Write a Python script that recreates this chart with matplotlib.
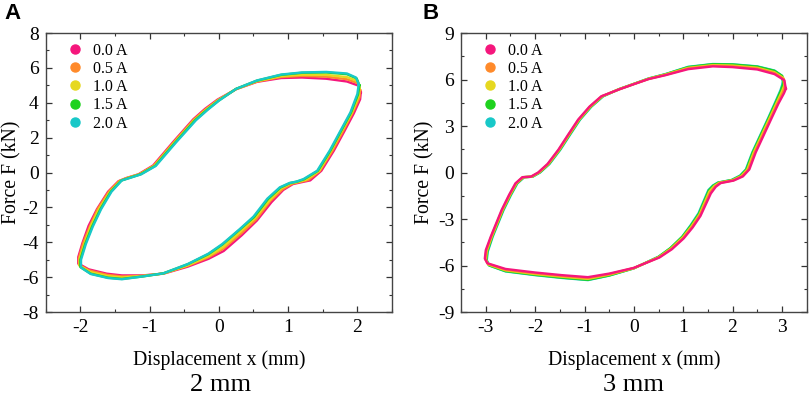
import matplotlib
matplotlib.use("Agg")
import matplotlib.pyplot as plt
from matplotlib.ticker import MultipleLocator

plt.rcParams['font.family'] = ['Liberation Serif', 'DejaVu Serif']
plt.rcParams['axes.unicode_minus'] = False

currents = ["0.0 A", "0.5 A", "1.0 A", "1.5 A", "2.0 A"]
colors = ["#f5167c", "#ff8a2a", "#e6d820", "#1ed21e", "#18c8c8"]

# ---- panel A, 2 mm amplitude: loops as (x mm, F kN)
A_00 = [(2.05, 4.60), (2.02, 4.98), (1.85, 5.22), (1.55, 5.38), (1.20, 5.45), (0.90, 5.42),
        (0.55, 5.20), (0.25, 4.78), (-0.02, 4.18), (-0.20, 3.65), (-0.37, 3.05), (-0.66, 1.75),
        (-0.95, 0.40), (-1.16, -0.10), (-1.34, -0.32), (-1.45, -0.50), (-1.60, -1.10),
        (-1.76, -2.10), (-1.88, -3.05), (-1.97, -4.05), (-2.03, -4.85), (-2.03, -5.22),
        (-1.88, -5.55), (-1.62, -5.80), (-1.40, -5.90), (-1.10, -5.90), (-0.80, -5.80),
        (-0.45, -5.40), (-0.15, -4.95), (0.07, -4.50), (0.33, -3.60), (0.55, -2.75),
        (0.76, -1.70), (0.93, -1.00), (1.07, -0.66), (1.20, -0.55), (1.32, -0.45), (1.48, 0.10),
        (1.66, 1.25), (1.81, 2.35), (1.95, 3.40), (2.04, 4.20), (2.05, 4.60)]
A_05 = [(2.04, 4.72), (2.01, 5.12), (1.85, 5.35), (1.55, 5.50), (1.20, 5.54), (0.90, 5.48),
        (0.55, 5.22), (0.25, 4.79), (-0.01, 4.16), (-0.19, 3.63), (-0.36, 3.04), (-0.65, 1.74),
        (-0.94, 0.39), (-1.15, -0.10), (-1.33, -0.32), (-1.44, -0.49), (-1.59, -1.10),
        (-1.75, -2.10), (-1.86, -3.06), (-1.96, -4.06), (-2.02, -4.90), (-2.02, -5.30),
        (-1.87, -5.62), (-1.61, -5.87), (-1.40, -5.96), (-1.10, -5.92), (-0.80, -5.79),
        (-0.45, -5.35), (-0.15, -4.86), (0.06, -4.38), (0.32, -3.50), (0.54, -2.68),
        (0.74, -1.64), (0.92, -0.96), (1.06, -0.64), (1.17, -0.54), (1.29, -0.43), (1.46, 0.10),
        (1.64, 1.25), (1.79, 2.35), (1.93, 3.42), (2.03, 4.30), (2.04, 4.72)]
A_10 = [(2.03, 4.85), (2.00, 5.25), (1.85, 5.47), (1.55, 5.60), (1.20, 5.61), (0.90, 5.53),
        (0.55, 5.24), (0.25, 4.79), (-0.01, 4.15), (-0.18, 3.62), (-0.35, 3.02), (-0.64, 1.73),
        (-0.93, 0.39), (-1.14, -0.10), (-1.32, -0.32), (-1.42, -0.47), (-1.57, -1.10),
        (-1.73, -2.10), (-1.85, -3.08), (-1.94, -4.08), (-2.01, -4.94), (-2.01, -5.35),
        (-1.86, -5.70), (-1.61, -5.94), (-1.40, -6.02), (-1.10, -5.94), (-0.80, -5.79),
        (-0.45, -5.32), (-0.15, -4.79), (0.06, -4.28), (0.31, -3.40), (0.52, -2.62),
        (0.73, -1.60), (0.90, -0.91), (1.04, -0.62), (1.15, -0.53), (1.26, -0.41), (1.45, 0.10),
        (1.62, 1.25), (1.77, 2.35), (1.92, 3.43), (2.02, 4.40), (2.03, 4.85)]
A_15 = [(2.03, 5.00), (1.99, 5.40), (1.85, 5.64), (1.55, 5.74), (1.20, 5.72), (0.90, 5.60),
        (0.55, 5.27), (0.25, 4.80), (0.00, 4.13), (-0.17, 3.60), (-0.34, 3.01), (-0.63, 1.72),
        (-0.92, 0.38), (-1.13, -0.10), (-1.31, -0.33), (-1.41, -0.46), (-1.56, -1.10),
        (-1.71, -2.10), (-1.83, -3.10), (-1.93, -4.10), (-2.00, -5.00), (-2.00, -5.42),
        (-1.85, -5.80), (-1.60, -6.03), (-1.40, -6.10), (-1.10, -5.96), (-0.80, -5.78),
        (-0.45, -5.26), (-0.15, -4.68), (0.05, -4.14), (0.30, -3.28), (0.51, -2.55),
        (0.71, -1.52), (0.89, -0.86), (1.03, -0.60), (1.13, -0.52), (1.23, -0.39), (1.43, 0.10),
        (1.61, 1.25), (1.76, 2.35), (1.91, 3.45), (2.01, 4.48), (2.03, 5.00)]
A_20 = [(2.02, 5.05), (1.98, 5.45), (1.85, 5.68), (1.55, 5.77), (1.20, 5.74), (0.90, 5.62),
        (0.55, 5.28), (0.25, 4.80), (0.00, 4.12), (-0.16, 3.60), (-0.33, 3.00), (-0.62, 1.72),
        (-0.91, 0.38), (-1.12, -0.10), (-1.30, -0.33), (-1.40, -0.45), (-1.55, -1.10),
        (-1.70, -2.10), (-1.82, -3.10), (-1.92, -4.10), (-1.99, -5.00), (-1.99, -5.45),
        (-1.85, -5.82), (-1.60, -6.05), (-1.40, -6.12), (-1.10, -5.96), (-0.80, -5.78),
        (-0.45, -5.25), (-0.15, -4.65), (0.05, -4.10), (0.30, -3.25), (0.50, -2.53),
        (0.70, -1.50), (0.88, -0.85), (1.02, -0.60), (1.12, -0.52), (1.22, -0.38), (1.42, 0.10),
        (1.60, 1.25), (1.75, 2.35), (1.90, 3.45), (2.00, 4.50), (2.02, 5.05)]

# ---- panel B, 3 mm amplitude
B_00 = [(3.08, 5.40), (3.05, 5.95), (2.85, 6.35), (2.50, 6.65), (2.00, 6.80), (1.60, 6.85),
        (1.10, 6.67), (0.64, 6.28), (0.30, 6.03), (0.00, 5.70), (-0.30, 5.36), (-0.66, 4.92),
        (-0.90, 4.25), (-1.13, 3.41), (-1.33, 2.45), (-1.53, 1.47), (-1.75, 0.55), (-1.94, 0.00),
        (-2.09, -0.27), (-2.26, -0.30), (-2.40, -0.70), (-2.53, -1.45), (-2.68, -2.42),
        (-2.90, -4.14), (-3.00, -5.00), (-3.02, -5.55), (-2.97, -5.85), (-2.60, -6.22),
        (-2.00, -6.45), (-1.46, -6.62), (-0.93, -6.75), (-0.50, -6.52), (0.00, -6.15),
        (0.52, -5.48), (0.77, -4.95), (1.01, -4.25), (1.19, -3.55), (1.35, -2.80), (1.56, -1.35),
        (1.66, -0.92), (1.76, -0.68), (2.02, -0.52), (2.21, -0.25), (2.34, 0.20), (2.47, 1.30),
        (2.63, 2.40), (2.79, 3.50), (2.93, 4.45), (3.04, 5.10), (3.08, 5.40)]
B_05 = [(3.06, 5.52), (3.04, 6.03), (2.85, 6.42), (2.50, 6.71), (2.00, 6.85), (1.60, 6.89),
        (1.10, 6.72), (0.64, 6.30), (0.30, 6.04), (0.00, 5.71), (-0.30, 5.37), (-0.65, 4.92),
        (-0.89, 4.25), (-1.12, 3.41), (-1.32, 2.45), (-1.52, 1.47), (-1.74, 0.55), (-1.93, 0.00),
        (-2.08, -0.27), (-2.25, -0.30), (-2.39, -0.70), (-2.52, -1.45), (-2.67, -2.42),
        (-2.89, -4.14), (-2.99, -5.03), (-3.01, -5.58), (-2.96, -5.89), (-2.60, -6.27),
        (-2.00, -6.50), (-1.46, -6.67), (-0.93, -6.81), (-0.50, -6.56), (0.00, -6.16),
        (0.51, -5.47), (0.76, -4.93), (1.00, -4.22), (1.18, -3.50), (1.34, -2.75), (1.55, -1.28),
        (1.65, -0.89), (1.74, -0.67), (2.01, -0.51), (2.19, -0.24), (2.32, 0.20), (2.45, 1.30),
        (2.61, 2.40), (2.77, 3.50), (2.91, 4.46), (3.02, 5.16), (3.06, 5.52)]
B_10 = [(3.05, 5.62), (3.03, 6.10), (2.85, 6.47), (2.50, 6.76), (2.00, 6.90), (1.60, 6.93),
        (1.10, 6.75), (0.64, 6.32), (0.30, 6.05), (0.00, 5.71), (-0.30, 5.37), (-0.64, 4.92),
        (-0.88, 4.25), (-1.11, 3.41), (-1.31, 2.45), (-1.51, 1.47), (-1.73, 0.55), (-1.92, 0.00),
        (-2.07, -0.27), (-2.24, -0.30), (-2.38, -0.70), (-2.51, -1.45), (-2.66, -2.42),
        (-2.88, -4.14), (-2.98, -5.06), (-3.00, -5.61), (-2.95, -5.93), (-2.60, -6.31),
        (-2.00, -6.55), (-1.46, -6.72), (-0.93, -6.86), (-0.50, -6.59), (0.00, -6.17),
        (0.51, -5.45), (0.75, -4.91), (0.99, -4.19), (1.17, -3.46), (1.33, -2.71), (1.53, -1.23),
        (1.63, -0.87), (1.73, -0.66), (2.00, -0.50), (2.18, -0.22), (2.30, 0.20), (2.43, 1.30),
        (2.59, 2.40), (2.75, 3.50), (2.89, 4.47), (3.00, 5.22), (3.05, 5.62)]
B_15 = [(3.03, 5.75), (3.01, 6.22), (2.85, 6.56), (2.50, 6.83), (2.00, 6.97), (1.60, 6.99),
        (1.10, 6.80), (0.64, 6.34), (0.30, 6.06), (0.00, 5.72), (-0.30, 5.38), (-0.63, 4.92),
        (-0.87, 4.25), (-1.10, 3.41), (-1.30, 2.45), (-1.50, 1.47), (-1.72, 0.55), (-1.91, 0.00),
        (-2.06, -0.27), (-2.23, -0.30), (-2.37, -0.70), (-2.50, -1.45), (-2.65, -2.42),
        (-2.87, -4.14), (-2.97, -5.09), (-2.99, -5.64), (-2.94, -5.98), (-2.60, -6.36),
        (-2.00, -6.60), (-1.46, -6.78), (-0.93, -6.92), (-0.50, -6.64), (0.00, -6.18),
        (0.50, -5.44), (0.74, -4.88), (0.98, -4.15), (1.16, -3.41), (1.32, -2.65), (1.52, -1.15),
        (1.61, -0.85), (1.71, -0.65), (1.99, -0.48), (2.16, -0.21), (2.28, 0.20), (2.41, 1.30),
        (2.57, 2.40), (2.73, 3.50), (2.87, 4.49), (2.98, 5.28), (3.03, 5.75)]
B_20 = [(3.02, 5.80), (3.00, 6.25), (2.85, 6.58), (2.50, 6.85), (2.00, 6.98), (1.60, 7.00),
        (1.10, 6.82), (0.64, 6.35), (0.30, 6.07), (0.00, 5.72), (-0.30, 5.38), (-0.62, 4.92),
        (-0.86, 4.25), (-1.09, 3.41), (-1.29, 2.45), (-1.49, 1.47), (-1.71, 0.55), (-1.90, 0.00),
        (-2.05, -0.27), (-2.22, -0.30), (-2.36, -0.70), (-2.49, -1.45), (-2.64, -2.42),
        (-2.86, -4.14), (-2.96, -5.10), (-2.98, -5.65), (-2.93, -6.00), (-2.60, -6.38),
        (-2.00, -6.62), (-1.46, -6.80), (-0.93, -6.94), (-0.50, -6.65), (0.00, -6.18),
        (0.50, -5.43), (0.74, -4.88), (0.98, -4.14), (1.15, -3.40), (1.31, -2.63), (1.51, -1.13),
        (1.60, -0.84), (1.70, -0.65), (1.98, -0.48), (2.15, -0.20), (2.27, 0.20), (2.40, 1.30),
        (2.56, 2.40), (2.72, 3.50), (2.86, 4.50), (2.97, 5.30), (3.02, 5.80)]

loopsA = [A_00, A_05, A_10, A_15, A_20]
loopsB = [B_00, B_05, B_10, B_15, B_20]

fig = plt.figure(figsize=(8.09, 3.98), dpi=100)
axA = fig.add_axes([0.0565, 0.216, 0.428, 0.701])
axB = fig.add_axes([0.570, 0.216, 0.427, 0.701])


def style(ax, lim_x, lim_y, step_x, step_y, ylab_x):
    ax.set_xlim(-lim_x, lim_x)
    ax.set_ylim(-lim_y, lim_y)
    ax.xaxis.set_major_locator(MultipleLocator(step_x))
    ax.xaxis.set_minor_locator(MultipleLocator(step_x / 2))
    ax.yaxis.set_major_locator(MultipleLocator(step_y))
    ax.yaxis.set_minor_locator(MultipleLocator(step_y / 2))
    ax.tick_params(which='both', direction='in', top=True, right=True,
                   labelsize=14, color='#333333')
    ax.tick_params(which='major', length=4, width=0.9, pad=5)
    ax.tick_params(which='minor', length=2.5, width=0.8)
    for s in ax.spines.values():
        s.set_color('#444444')
        s.set_linewidth(1.0)
    ax.set_xlabel("Displacement x (mm)", fontsize=14.2)
    ax.set_ylabel("Force F (kN)", fontsize=14.2)
    ax.xaxis.set_label_coords(0.5, -0.172)
    ax.xaxis.label.set_va('center')
    ax.yaxis.set_label_coords(ylab_x, 0.5)
    ax.yaxis.label.set_va('center')


def draw(ax, loops, order):
    for k, i in enumerate(order):
        pts = loops[i]
        ax.plot([p[0] for p in pts], [p[1] for p in pts], color=colors[i], lw=1.7,
                solid_joinstyle='round', zorder=2 + k)
    for i in range(5):
        ax.plot([], [], 'o', color=colors[i], ms=6.5, label=currents[i])
    ax.legend(loc='upper left', frameon=False, fontsize=11.5, handlelength=0.9,
              handletextpad=0.7, labelspacing=0.14, borderaxespad=0.2,
              bbox_to_anchor=(0.035, 1.0))


draw(axA, loopsA, [0, 1, 2, 3, 4])
draw(axB, loopsB, [4, 3, 2, 1, 0])
style(axA, 2.5, 8, 1, 2, -0.097)
style(axB, 3.5, 9, 1, 3, -0.106)

fig.text(0.273, 0.018, "2 mm", fontsize=19, ha='center', va='baseline')
fig.text(0.783, 0.018, "3 mm", fontsize=19, ha='center', va='baseline')
fig.text(0.006, 0.952, "A", fontsize=16, fontweight='bold', family='Liberation Sans')
fig.text(0.522, 0.952, "B", fontsize=16, fontweight='bold', family='Liberation Sans')

fig.savefig("out.png", dpi=100)
